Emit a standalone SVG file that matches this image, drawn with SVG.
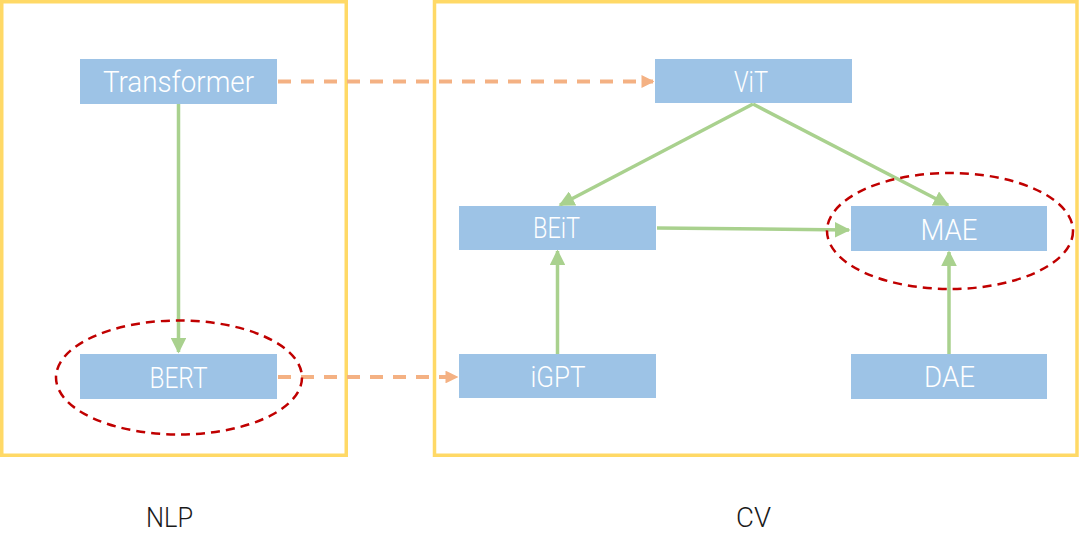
<svg xmlns="http://www.w3.org/2000/svg" width="1080" height="552" viewBox="0 0 1080 552">
<defs>
<style>
.frame{fill:none;stroke:#FFD966;stroke-width:3.5}
.box{fill:#9DC3E6}
.lbl{fill:#ffffff;font-family:Roboto,"Liberation Sans",sans-serif;font-weight:300;font-size:29px;text-anchor:middle}
.cap{fill:#1a1a1a;font-family:Roboto,"Liberation Sans",sans-serif;font-weight:300;font-size:28px;text-anchor:middle}
.g{fill:none;stroke:#A9D18E;stroke-width:3.5}
.o{fill:none;stroke:#F4B183;stroke-width:4;stroke-dasharray:13 10}
.ring{fill:none;stroke:#C00000;stroke-width:2.5;stroke-dasharray:9 6}
</style>
<marker id="ag" viewBox="0 0 10 10" refX="9" refY="5" markerWidth="4.5" markerHeight="4.5" markerUnits="strokeWidth" orient="auto">
<path d="M0,0 L10,5 L0,10 z" fill="#A9D18E"/>
</marker>
<marker id="ao" viewBox="0 0 10 10" refX="9" refY="5" markerWidth="3.2" markerHeight="3.2" markerUnits="strokeWidth" orient="auto">
<path d="M0,0 L10,5 L0,10 z" fill="#F4B183"/>
</marker>
</defs>
<rect width="1080" height="552" fill="#ffffff"/>
<g id="frames">
<rect class="frame" x="1.75" y="1.75" width="344.5" height="453.5"/>
<rect class="frame" x="434.5" y="1.75" width="642.5" height="453.5"/>
</g>
<g id="connectors">
<line class="g" x1="178.5" y1="104" x2="178.5" y2="352" marker-end="url(#ag)"/>
<line class="o" x1="278" y1="81.5" x2="653" y2="81.5" marker-end="url(#ao)"/>
<line class="o" x1="278" y1="377" x2="457" y2="377" marker-end="url(#ao)"/>
<line class="g" x1="753" y1="104" x2="560" y2="205" marker-end="url(#ag)"/>
<line class="g" x1="753" y1="104" x2="948" y2="205" marker-end="url(#ag)"/>
<line class="g" x1="657" y1="228" x2="849" y2="230" marker-end="url(#ag)"/>
<line class="g" x1="557.5" y1="354" x2="557.5" y2="251" marker-end="url(#ag)"/>
<line class="g" x1="949" y1="354" x2="949" y2="252" marker-end="url(#ag)"/>
</g>
<g id="node-transformer">
<rect class="box" x="80" y="59" width="197" height="45"/>
<text class="lbl" x="178.5" y="92" textLength="151" lengthAdjust="spacingAndGlyphs">Transformer</text>
</g>
<g id="node-bert">
<rect class="box" x="80" y="354" width="197" height="45"/>
<text class="lbl" x="178.5" y="388" textLength="58" lengthAdjust="spacingAndGlyphs">BERT</text>
</g>
<g id="node-vit">
<rect class="box" x="655" y="59" width="197" height="44"/>
<text class="lbl" x="751" y="92" textLength="34" lengthAdjust="spacingAndGlyphs">ViT</text>
</g>
<g id="node-beit">
<rect class="box" x="459" y="206" width="197" height="44"/>
<text class="lbl" x="556.5" y="238" textLength="47" lengthAdjust="spacingAndGlyphs">BEiT</text>
</g>
<g id="node-mae">
<rect class="box" x="851" y="206" width="196" height="45"/>
<text class="lbl" x="949" y="240" textLength="57" lengthAdjust="spacingAndGlyphs">MAE</text>
</g>
<g id="node-igpt">
<rect class="box" x="459" y="354" width="197" height="44"/>
<text class="lbl" x="558" y="387" textLength="55" lengthAdjust="spacingAndGlyphs">iGPT</text>
</g>
<g id="node-dae">
<rect class="box" x="851" y="354" width="196" height="45"/>
<text class="lbl" x="949.5" y="387" textLength="51" lengthAdjust="spacingAndGlyphs">DAE</text>
</g>
<g id="highlights">
<ellipse class="ring" cx="179" cy="377.5" rx="123" ry="57"/>
<ellipse class="ring" cx="950" cy="231" rx="123" ry="58"/>
</g>
<g id="captions">
<text class="cap" x="169.5" y="527" textLength="47" lengthAdjust="spacingAndGlyphs">NLP</text>
<text class="cap" x="753.5" y="527" textLength="35" lengthAdjust="spacingAndGlyphs">CV</text>
</g>
</svg>
